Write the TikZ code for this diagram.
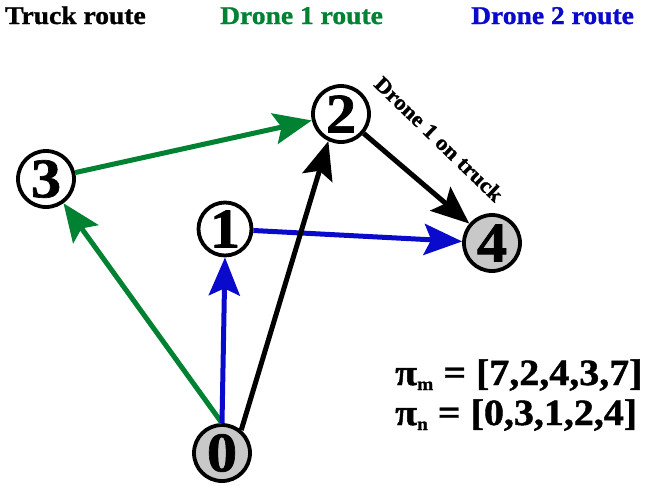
\documentclass[tikz,border=0pt]{standalone}
\usepackage{fontspec}
\setmainfont{Liberation Serif}[FakeStretch=1.08, BoldFeatures={FakeBold=1.2}]
\usetikzlibrary{arrows.meta}
\definecolor{dgreen}{RGB}{0,130,50}
\definecolor{dblue}{RGB}{10,10,205}
\definecolor{ngray}{RGB}{200,200,200}
\begin{document}
\begin{tikzpicture}[x=1pt,y=-1pt,
  vert/.style={circle, draw, line width=3.8pt, minimum size=56pt, inner sep=0pt,
    font=\fontsize{56}{56}\selectfont\bfseries},
  gvert/.style={vert, fill=ngray},
  route/.style={line width=5pt, -{Stealth[length=38pt,width=31pt,inset=7pt]}},
  head/.style={anchor=base west, inner sep=0pt, font=\fontsize{25.5}{25.5}\selectfont\bfseries},
  formula/.style={anchor=base west, inner sep=0pt, font=\fontsize{37}{37}\selectfont\bfseries}]
\useasboundingbox (0,0) rectangle (647,485);
\node[head] (h1) at (5,24) {Truck route};
\node[head, text=dgreen] (h2) at (220,24) {Drone 1 route};
\node[head, text=dblue] (h3) at (471,24) {Drone 2 route};

\node[gvert] (n0) at (222,453) {0};
\node[vert, minimum size=53pt] (n1) at (225,229) {1};
\node[vert] (n2) at (341,114) {2};
\node[vert] (n3) at (46,179) {3};
\node[gvert] (n4) at (492,243) {4};

\draw[route, dgreen] (n0.north) -- (n3);
\draw[route, dgreen] (n3) -- (n2);
\draw[route, dblue] (n0.north) -- (n1.south);
\draw[route, dblue] (n1) -- (n4);
\draw[route, black] (n0.50) -- (n2.245);
\draw[route, black] (n2) -- (n4);

\node[rotate=-44, inner sep=0pt, font=\fontsize{21.5}{21.5}\selectfont\bfseries] (lbl) at (439,139) {Drone 1 on truck};

\node[formula] (pm) at (395,385) {π\raisebox{-5pt}{\fontsize{18}{18}\selectfont m} = [7,2,4,3,7]};
\node[formula] (pn) at (395,425) {π\raisebox{-5pt}{\fontsize{18}{18}\selectfont n} = [0,3,1,2,4]};
\end{tikzpicture}
\end{document}
